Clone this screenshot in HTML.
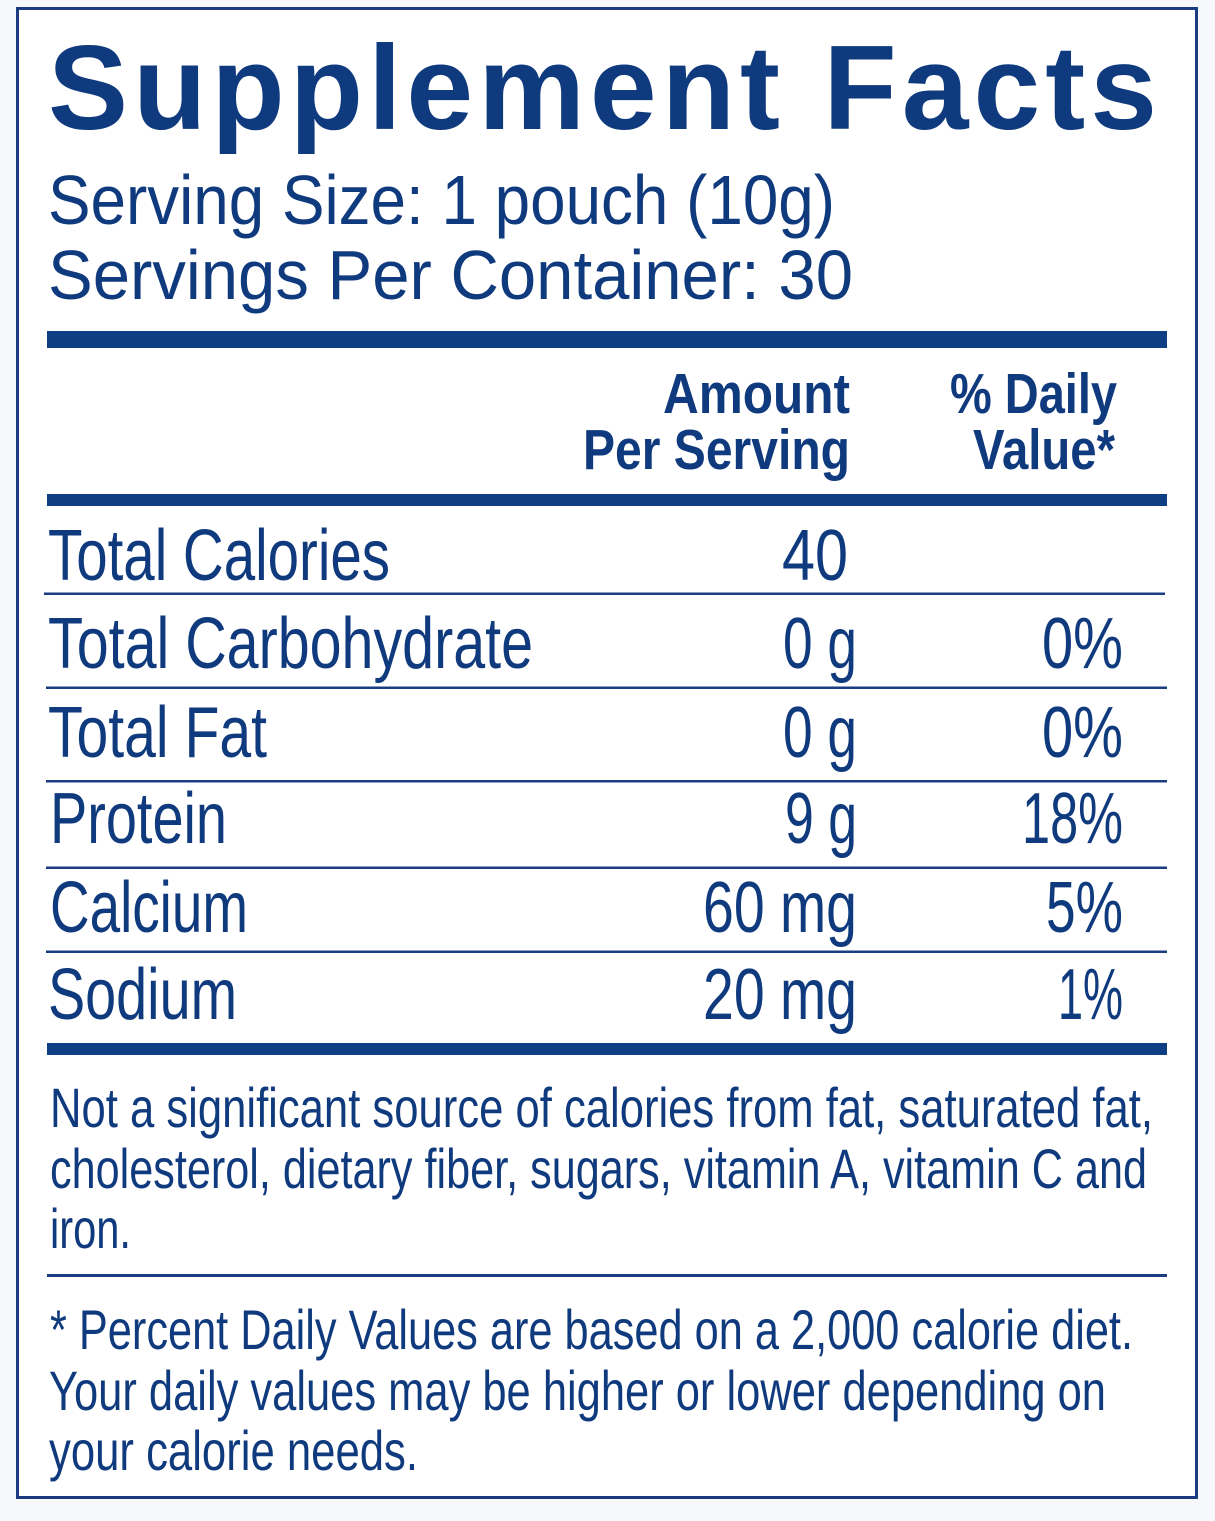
<!DOCTYPE html>
<html>
<head>
<meta charset="utf-8">
<style>
  html, body { margin: 0; padding: 0; background: #f6f8fc; }
  svg { display: block; }
  text { font-family: "Liberation Sans", Arial, sans-serif; fill: #0f3a7e; }
  .b { font-weight: bold; }
</style>
</head>
<body>
<svg width="1215" height="1521" viewBox="0 0 1215 1521" xmlns="http://www.w3.org/2000/svg">
  <rect x="0" y="0" width="1215" height="1521" fill="#f6f8fc"/>
  <rect x="17.5" y="8.5" width="1179" height="1489" fill="#ffffff" stroke="#1c3c82" stroke-width="3"/>

  <!-- Title -->
  <text class="b" x="48" y="129" font-size="120" textLength="1109" lengthAdjust="spacing" fill="#0e3e84">Supplement Facts</text>

  <text x="48" y="224" font-size="70" textLength="787" lengthAdjust="spacingAndGlyphs">Serving Size: 1 pouch (10g)</text>
  <text x="48" y="299" font-size="70" textLength="805" lengthAdjust="spacingAndGlyphs">Servings Per Container: 30</text>

  <rect x="47" y="331" width="1120" height="17" fill="#0e3e84"/>

  <!-- Header -->
  <text class="b" x="663" y="413" font-size="57" textLength="187" lengthAdjust="spacingAndGlyphs">Amount</text>
  <text class="b" x="583" y="469" font-size="57" textLength="267" lengthAdjust="spacingAndGlyphs">Per Serving</text>
  <text class="b" x="950" y="413" font-size="57" textLength="167" lengthAdjust="spacingAndGlyphs">% Daily</text>
  <text class="b" x="973" y="469" font-size="57" textLength="142" lengthAdjust="spacingAndGlyphs">Value*</text>

  <rect x="47" y="494" width="1120" height="12" fill="#0e3e84"/>

  <!-- Rows -->
  <text x="48" y="580" font-size="72" textLength="342" lengthAdjust="spacingAndGlyphs">Total Calories</text>
  <text x="782" y="580" font-size="72" textLength="66" lengthAdjust="spacingAndGlyphs">40</text>
  <rect x="44" y="592.5" width="1121" height="2.5" fill="#1c3c82"/>

  <text x="48" y="668" font-size="72" textLength="485" lengthAdjust="spacingAndGlyphs">Total Carbohydrate</text>
  <text x="783" y="668" font-size="72" textLength="74" lengthAdjust="spacingAndGlyphs">0 g</text>
  <text x="1042" y="668" font-size="72" textLength="81" lengthAdjust="spacingAndGlyphs">0%</text>
  <rect x="46" y="686.5" width="1121" height="2.5" fill="#1c3c82"/>

  <text x="48" y="757" font-size="72" textLength="219" lengthAdjust="spacingAndGlyphs">Total Fat</text>
  <text x="783" y="757" font-size="72" textLength="74" lengthAdjust="spacingAndGlyphs">0 g</text>
  <text x="1042" y="757" font-size="72" textLength="81" lengthAdjust="spacingAndGlyphs">0%</text>
  <rect x="46" y="780" width="1121" height="2.5" fill="#1c3c82"/>

  <text x="50" y="843" font-size="72" textLength="177" lengthAdjust="spacingAndGlyphs">Protein</text>
  <text x="785" y="843" font-size="72" textLength="72" lengthAdjust="spacingAndGlyphs">9 g</text>
  <text x="1022" y="843" font-size="72" textLength="101" lengthAdjust="spacingAndGlyphs">18%</text>
  <rect x="46" y="866.5" width="1121" height="2.5" fill="#1c3c82"/>

  <text x="50" y="932" font-size="72" textLength="198" lengthAdjust="spacingAndGlyphs">Calcium</text>
  <text x="703" y="932" font-size="72" textLength="154" lengthAdjust="spacingAndGlyphs">60 mg</text>
  <text x="1046" y="932" font-size="72" textLength="77" lengthAdjust="spacingAndGlyphs">5%</text>
  <rect x="46" y="950.5" width="1121" height="2.5" fill="#1c3c82"/>

  <text x="48" y="1019" font-size="72" textLength="189" lengthAdjust="spacingAndGlyphs">Sodium</text>
  <text x="703" y="1019" font-size="72" textLength="154" lengthAdjust="spacingAndGlyphs">20 mg</text>
  <text x="1058" y="1019" font-size="72" textLength="65" lengthAdjust="spacingAndGlyphs">1%</text>

  <rect x="47" y="1043" width="1120" height="12" fill="#0e3e84"/>

  <!-- Footnotes -->
  <text x="50" y="1127" font-size="56" textLength="1103" lengthAdjust="spacingAndGlyphs">Not a significant source of calories from fat, saturated fat,</text>
  <text x="50" y="1188" font-size="56" textLength="1097" lengthAdjust="spacingAndGlyphs">cholesterol, dietary fiber, sugars, vitamin A, vitamin C and</text>
  <text x="50" y="1248" font-size="56" textLength="81" lengthAdjust="spacingAndGlyphs">iron.</text>

  <rect x="47" y="1274" width="1120" height="3" fill="#1c3c82"/>

  <text x="50" y="1349" font-size="56" textLength="1083" lengthAdjust="spacingAndGlyphs">* Percent Daily Values are based on a 2,000 calorie diet.</text>
  <text x="49" y="1410" font-size="56" textLength="1057" lengthAdjust="spacingAndGlyphs">Your daily values may be higher or lower depending on</text>
  <text x="49" y="1470" font-size="56" textLength="369" lengthAdjust="spacingAndGlyphs">your calorie needs.</text>
</svg>
</body>
</html>
